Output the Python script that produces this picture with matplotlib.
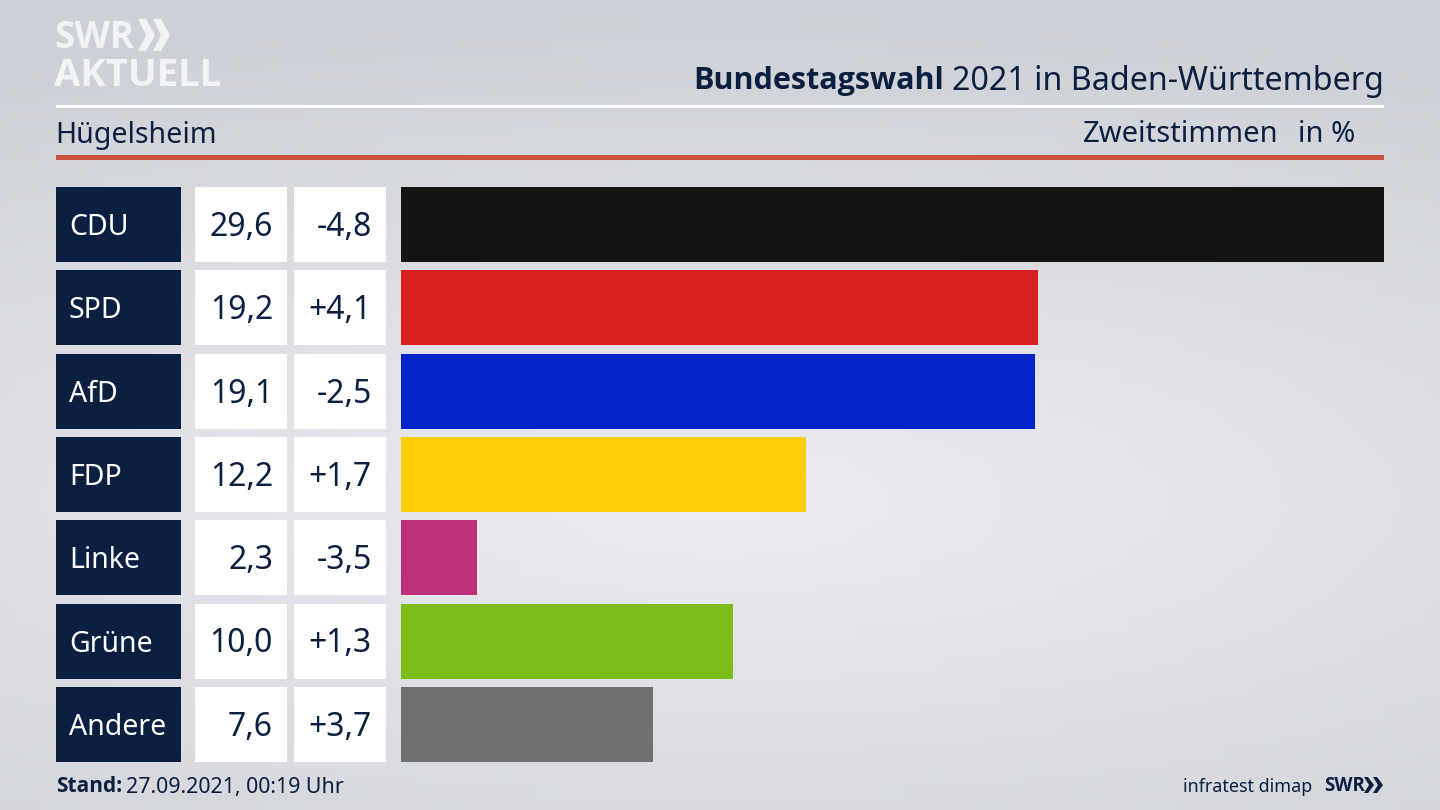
import numpy as np
import matplotlib
matplotlib.use('Agg')
import matplotlib.pyplot as plt
from matplotlib.patches import Rectangle, Polygon

parties = ['CDU', 'SPD', 'AfD', 'FDP', 'Linke', 'Grüne', 'Andere']
shares = [29.6, 19.2, 19.1, 12.2, 2.3, 10.0, 7.6]
changes = ['-4,8', '+4,1', '-2,5', '+1,7', '-3,5', '+1,3', '+3,7']
colors = ['#141414', '#da201f', '#0224c8', '#ffcc08', '#bd2f78', '#7abd1a', '#717173']

NAVY = '#0b2040'
LOGO = '#f2f3f5'
BOLD = ['Open Sans', 'DejaVu Sans']
plt.rcParams['font.family'] = ['Noto Sans', 'DejaVu Sans']

fig = plt.figure(figsize=(14.4, 8.1), dpi=100)

# background, grey at the top and bottom, lighter towards the lower middle
bg = fig.add_axes([0, 0, 1, 1], zorder=0)
yy, xx = np.mgrid[0:1:81j, 0:1:144j]
dist = np.sqrt(((xx - 0.5) / 1.1) ** 2 + ((yy - 0.62) / 0.62) ** 2)
bg.imshow(np.clip(dist, 0, 1), cmap=matplotlib.colors.LinearSegmentedColormap.from_list(
    'bg', ['#ebecf0', '#cdd0d6']), vmin=0, vmax=1, aspect='auto', extent=(0, 1440, 810, 0))
bg.set_xlim(0, 1440)
bg.set_ylim(810, 0)
bg.axis('off')

# header
bg.add_patch(Rectangle((56, 104.5), 1328, 3, color='white', lw=0))
bg.add_patch(Rectangle((56, 155), 1328, 5, color='#cc5340', lw=0))
bg.text(944, 81, 'Bundestagswahl', ha='right', va='center', fontsize=22, fontweight='bold', family=BOLD, color=NAVY)
bg.text(1384, 81, '2021 in Baden-Württemberg', ha='right', va='center', fontsize=23.2, color=NAVY)
bg.text(55, 135, 'Hügelsheim', ha='left', va='center', fontsize=20.6, color=NAVY)
bg.text(1278, 135, 'Zweitstimmen', ha='right', va='center', fontsize=21, color=NAVY)
bg.text(1355, 135, 'in %', ha='right', va='center', fontsize=21, color=NAVY)

# logo top left
bg.text(54, 38, 'SWR', ha='left', va='center', fontsize=26.5, fontweight='bold', family=BOLD, color=LOGO)
bg.text(54, 76, 'AKTUELL', ha='left', va='center', fontsize=27.5, fontweight='bold', family=BOLD, color=LOGO)
for x0 in (138, 153):
    bg.add_patch(Polygon([(x0, 19), (x0 + 8, 19), (x0 + 17, 35), (x0 + 8, 51), (x0, 51), (x0 + 8, 35)],
                         color=LOGO, lw=0))

# table cells left of the bars
row_h = 75
for i, party in enumerate(parties):
    top = 187 + i * 83.3
    mid = top + row_h / 2
    bg.add_patch(Rectangle((56, top), 125, row_h, color=NAVY, lw=0))
    bg.add_patch(Rectangle((195, top), 92, row_h, color='white', lw=0))
    bg.add_patch(Rectangle((294, top), 92, row_h, color='white', lw=0))
    bg.text(69, mid + 3, party, ha='left', va='center', fontsize=20.5, color='white')
    bg.text(273, mid + 3, f'{shares[i]:.1f}'.replace('.', ','), ha='right', va='center', fontsize=23, color=NAVY)
    bg.text(372, mid + 3, changes[i], ha='right', va='center', fontsize=23, color=NAVY)

# footer
bg.text(56, 787, 'Stand:', ha='left', va='center', fontsize=15, fontweight='bold', family=BOLD, color=NAVY)
bg.text(126, 787, '27.09.2021, 00:19 Uhr', ha='left', va='center', fontsize=15.4, color=NAVY)
bg.text(1312, 787, 'infratest dimap', ha='right', va='center', fontsize=12.9, color=NAVY)
bg.text(1324, 786, 'SWR', ha='left', va='center', fontsize=13.5, fontweight='bold', family=BOLD, color=NAVY)
for x0 in (1364, 1373):
    bg.add_patch(Polygon([(x0, 777), (x0 + 4, 777), (x0 + 10, 785), (x0 + 4, 793), (x0, 793), (x0 + 5, 785)],
                         color=NAVY, lw=0))

# bars, 0..29.6 spans x 400.5..1384, rows every 83.3 px
ax_top = 187 - 4.15
ax_h = 7 * 83.3
ax = fig.add_axes([400.5 / 1440, 1 - (ax_top + ax_h) / 810, 983.5 / 1440, ax_h / 810], zorder=1)
ax.barh(range(len(parties)), shares, height=row_h / 83.3, color=colors)
ax.set_xlim(0, 29.6)
ax.set_ylim(6.5, -0.5)
ax.axis('off')

fig.savefig('out.png', dpi=100)
